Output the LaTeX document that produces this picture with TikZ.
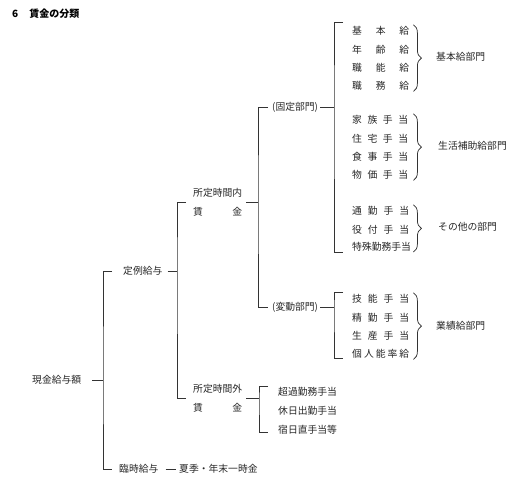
\documentclass[tikz,border=0pt]{standalone}
\usepackage{fontspec}
\newfontfamily\cjk{Noto Sans CJK JP}
\usetikzlibrary{positioning, calc, decorations.pathreplacing}
\newcommand\spreadbox[2]{\makebox[#1][s]{#2}}

\begin{document}
\begin{tikzpicture}[x=1pt, y=-1pt,
    node distance=0pt,
    every node/.style={inner sep=0pt, text=black!85, font=\cjk\fontsize{9.8}{12}\selectfont},
    item/.style={minimum height=18pt},
    twoline/.style={align=left, font=\cjk\fontsize{9.8}{19}\selectfont},
    link/.style={draw=black!80, line width=0.75pt},
    curly/.style={draw=black!80, line width=0.75pt, decorate, decoration={brace, amplitude=8pt}}
  ]
  \useasboundingbox (0,0) rectangle (520,492);

  % Title
  \node[anchor=west, font=\cjk\bfseries\fontsize{10}{12}\selectfont, text=black] (title) at (12,14) {6\hspace{11pt}賃金の分類};

  % Left part
  \node[anchor=west] (genkin) at (32,380) {現金給与額};
  \node[anchor=west] (teirei) at (123,271) {定例給与};
  \node[anchor=west] (rinji) at (119,469) {臨時給与};
  \node[anchor=west] (kaki) at (179,469) {夏季・年末一時金};

  \node[twoline, anchor=west] (nai) at (193,202) {所定時間内\\\spreadbox{49pt}{賃 金}};
  \node[twoline, anchor=west] (gai) at (193,398) {所定時間外\\\spreadbox{49pt}{賃 金}};

  \node[anchor=west] (kotei) at (272,107) {(固定部門)};
  \node[anchor=west] (hendo) at (272,307) {(変動部門)};

  % Fixed part: items
  \node[item, anchor=west] (kihon) at (352,31) {\spreadbox{57pt}{基 本 給}};
  \node[item, below=of kihon] (nenrei) {\spreadbox{57pt}{年 齢 給}};
  \node[item, below=of nenrei] (shokuno) {\spreadbox{57pt}{職 能 給}};
  \node[item, below=of shokuno] (shokumu) {\spreadbox{57pt}{職 務 給}};

  \node[item, anchor=west] (kazoku) at (352,120) {\spreadbox{56pt}{家 族 手 当}};
  \node[item, below=of kazoku] (jutaku) {\spreadbox{56pt}{住 宅 手 当}};
  \node[item, below=of jutaku] (shokuji) {\spreadbox{56pt}{食 事 手 当}};
  \node[item, below=of shokuji] (bukka) {\spreadbox{56pt}{物 価 手 当}};

  \node[item, anchor=west] (tsukin) at (352,211) {\spreadbox{57pt}{通 勤 手 当}};
  \node[item, below=of tsukin] (yakutsuki) {\spreadbox{57pt}{役 付 手 当}};
  \node[item, below=of yakutsuki, yshift=1pt] (tokushu) {\spreadbox{57pt}{特殊勤務手当}};

  % Variable part: items
  \node[item, anchor=west] (gino) at (352,299) {\spreadbox{57pt}{技 能 手 当}};
  \node[item, below=of gino] (seikin) {\spreadbox{57pt}{精 勤 手 当}};
  \node[item, below=of seikin] (seisan) {\spreadbox{57pt}{生 産 手 当}};
  \node[item, below=of seisan] (kojin) {\spreadbox{57pt}{個 人 能 率 給}};

  % Overtime items
  \node[item, anchor=west] (choka) at (278,392) {超過勤務手当};
  \node[item, below=of choka, yshift=-0.5pt] (kyujitsu) {休日出勤手当};
  \node[item, below=of kyujitsu, yshift=-0.5pt] (shukujitsu) {宿日直手当等};

  % Group labels
  \node[anchor=west] (kihonbu) at (436,57) {基本給部門};
  \node[anchor=west] (seikatsu) at (438,146) {生活補助給部門};
  \node[anchor=west] (sonota) at (438,227) {その他の部門};
  \node[anchor=west] (gyoseki) at (436,326) {業績給部門};

  % Spines
  \coordinate (spineA) at (103,380);
  \coordinate (spineB) at (177,271);
  \coordinate (spineC) at (258,202);
  \coordinate (spineD) at (334,107);
  \coordinate (spineE) at (334,307);
  \coordinate (spineF) at (259,398);
  \coordinate (d1) at (343,22);
  \coordinate (d2) at (343,252);
  \coordinate (e1) at (343,292);
  \coordinate (e2) at (343,358);
  \coordinate (f1) at (268,386);
  \coordinate (f2) at (268,432);

  % Connectors
  \draw[link] ([xshift=11pt]genkin.east) -- (spineA);
  \draw[link] ([xshift=-11pt]teirei.west) -| (spineA) |- ([xshift=-7pt]rinji.west);
  \draw[link] ([xshift=7pt]rinji.east) -- ([xshift=-3pt]kaki.west);

  \draw[link] ([xshift=5pt]teirei.east) -- (spineB);
  \draw[link] ([xshift=-7pt]nai.west) -| (spineB) |- ([xshift=-7pt]gai.west);

  \draw[link] ([xshift=4pt]nai.east) -- (spineC);
  \draw[link] ([xshift=-4pt]kotei.west) -| (spineC) |- ([xshift=-4pt]hendo.west);

  \draw[link] ([xshift=2pt]kotei.east) -- (spineD);
  \draw[link] (d1) -| (spineD) |- (d2);

  \draw[link] ([xshift=2pt]hendo.east) -- (spineE);
  \draw[link] (e1) -| (spineE) |- (e2);

  \draw[link] ([xshift=4pt]gai.east) -- (spineF);
  \draw[link] (f1) -| (spineF) |- (f2);

  % Braces
  \draw[curly] ($(kihon.north east)+(4,3)$) -- ($(shokumu.south east)+(4,-4)$);
  \draw[curly] ($(kazoku.north east)+(5,3)$) -- ($(bukka.south east)+(5,-4)$);
  \draw[curly] ($(tsukin.north east)+(4,3)$) -- ($(tokushu.south east)+(4,-4)$);
  \draw[curly] ($(gino.north east)+(4,3)$) -- ($(kojin.south east)+(4,-4)$);
\end{tikzpicture}
\end{document}
